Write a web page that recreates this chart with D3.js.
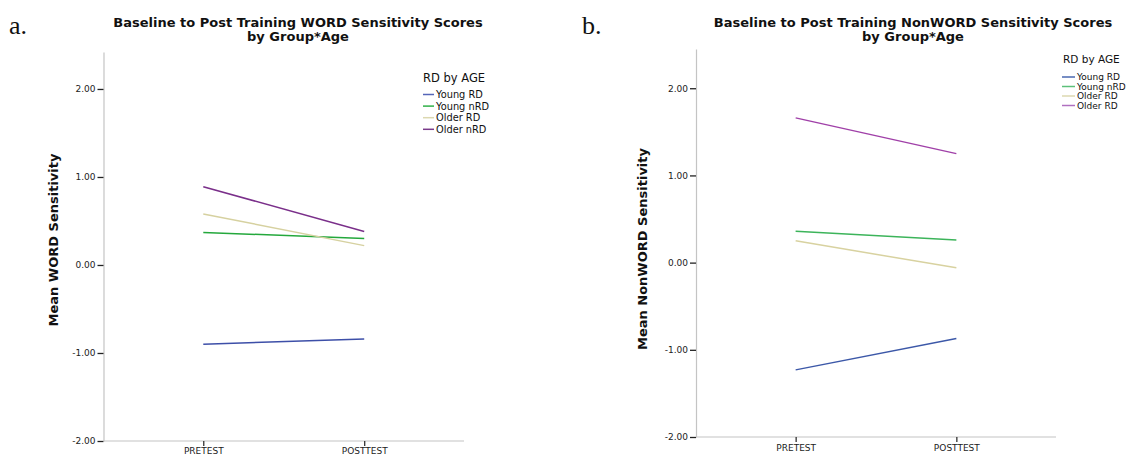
<!DOCTYPE html>
<html>
<head>
<meta charset="utf-8">
<script src="https://cdn.jsdelivr.net/npm/d3@7"></script>
<style>
  html, body { margin: 0; padding: 0; background: #fff; }
  svg { display: block; }
</style>
</head>
<body>
<svg id="chart" width="1130" height="455"></svg>
<script>
// ---------- data ----------
const timepoints = ["PRETEST", "POSTTEST"];
const yTicks = [-2, -1, 0, 1, 2];

const legendTitle = "RD by AGE";
const groupsWord = ["Young RD", "Young nRD", "Older RD", "Older nRD"];
const groupsNonword = ["Young RD", "Young nRD", "Older RD", "Older RD"];

// Panel a: WORD sensitivity (pre, post)
const wordYoungRD  = [-0.90, -0.84];
const wordYoungNRD = [0.37, 0.30];
const wordOlderRD  = [0.58, 0.22];
const wordOlderNRD = [0.89, 0.38];

// Panel b: NonWORD sensitivity (pre, post)
const nonwordYoungRD  = [-1.23, -0.87];
const nonwordYoungNRD = [0.36, 0.26];
const nonwordOlderRD  = [0.25, -0.06];
const nonwordOlderNRD = [1.66, 1.25];

const titleWord = ["Baseline to Post Training WORD Sensitivity Scores", "by Group*Age"];
const titleNonword = ["Baseline to Post Training NonWORD Sensitivity Scores", "by Group*Age"];
const yLabelWord = "Mean WORD Sensitivity";
const yLabelNonword = "Mean NonWORD Sensitivity";

// ---------- drawing ----------
const svg = d3.select("#chart");
const sans = "'DejaVu Sans', 'Open Sans', sans-serif";

function drawPanel(cfg) {
  const g = svg.append("g");
  const x = d3.scalePoint().domain(timepoints).range([cfg.left, cfg.right]).padding(0.62);
  const y = d3.scaleLinear().domain([-2, cfg.yMax]).range([cfg.bottom, cfg.top]);

  // panel letter
  g.append("text").attr("x", cfg.letterX).attr("y", 34)
    .attr("font-family", "'Liberation Serif', 'Times New Roman', serif")
    .attr("font-size", 26).attr("fill", "#111").text(cfg.letter);

  // title
  cfg.title.forEach((t, i) => {
    g.append("text").attr("x", cfg.titleX).attr("y", 27 + i * 14)
      .attr("text-anchor", "middle").attr("font-family", sans)
      .attr("font-weight", "bold").attr("font-size", 13).attr("fill", "#111").text(t);
  });

  // y axis
  const yAxis = g.append("g").attr("transform", `translate(${cfg.left},0)`)
    .call(d3.axisLeft(y).tickValues(yTicks).tickSize(6).tickSizeOuter(0).tickPadding(2)
      .tickFormat(d => d.toFixed(2)));
  yAxis.select(".domain").attr("stroke", "#c4c4c4").attr("stroke-width", 1.2);
  yAxis.selectAll(".tick line").attr("stroke", "#222").attr("stroke-width", 1.3);
  yAxis.selectAll(".tick text").attr("font-family", sans).attr("font-size", 9).attr("fill", "#222");

  // x axis
  const xAxis = g.append("g").attr("transform", `translate(0,${cfg.bottom})`)
    .call(d3.axisBottom(x).tickSize(5).tickSizeOuter(0).tickPadding(cfg.xPad));
  xAxis.select(".domain").attr("stroke", "#c4c4c4").attr("stroke-width", 1.2)
    .attr("d", `M${cfg.left},0H${cfg.right}`);
  xAxis.selectAll(".tick line").attr("stroke", "#222").attr("stroke-width", 1.2);
  xAxis.selectAll(".tick text").attr("font-family", sans).attr("font-size", 9).attr("fill", "#222");

  // y label
  g.append("text")
    .attr("transform", `translate(${cfg.yLabelX},${cfg.yLabelY}) rotate(-90)`)
    .attr("text-anchor", "middle").attr("font-family", sans).attr("font-weight", "bold")
    .attr("font-size", 13).attr("fill", "#111").text(cfg.yLabel);

  // lines
  const line = d3.line().x((d, i) => x(timepoints[i])).y(d => y(d));
  cfg.series.forEach((s, i) => {
    g.append("path").datum(s).attr("d", line).attr("fill", "none")
      .attr("stroke", cfg.colors[i]).attr("stroke-width", 1.5);
  });

  // legend
  const L = cfg.legend;
  g.append("text").attr("x", L.x + L.titleDx).attr("y", L.titleY)
    .attr("font-family", sans).attr("font-size", L.titleSize).attr("fill", "#111").text(legendTitle);
  cfg.groups.forEach((name, i) => {
    const yy = L.y0 + i * L.dy;
    g.append("line").attr("x1", L.x).attr("x2", L.x + L.len).attr("y1", yy).attr("y2", yy)
      .attr("stroke", cfg.legendColors[i]).attr("stroke-width", 1.5);
    g.append("text").attr("x", L.x + L.len + 2).attr("y", yy).attr("dy", "0.35em")
      .attr("font-family", sans).attr("font-size", L.size).attr("fill", "#111").text(name);
  });
}

drawPanel({
  letter: "a.", letterX: 9,
  title: titleWord, titleX: 298,
  left: 103.5, right: 464, top: 52, bottom: 441, yMax: 2.42, xPad: 1.5,
  yLabel: yLabelWord, yLabelX: 58, yLabelY: 240,
  series: [wordYoungRD, wordYoungNRD, wordOlderRD, wordOlderNRD],
  groups: groupsWord,
  colors: ["#3d4fa8", "#24a83c", "#d6d1a0", "#7a2f8a"],
  legendColors: ["#5566b8", "#30b048", "#dcd8b0", "#7a3a8a"],
  legend: { x: 423, len: 11, titleDx: 0, titleY: 82, titleSize: 11.5, y0: 94.5, dy: 11.6, size: 9.8 }
});

drawPanel({
  letter: "b.", letterX: 582,
  title: titleNonword, titleX: 913,
  left: 696, right: 1056, top: 49, bottom: 437, yMax: 2.45, xPad: 3,
  yLabel: yLabelNonword, yLabelX: 647, yLabelY: 249,
  series: [nonwordYoungRD, nonwordYoungNRD, nonwordOlderRD, nonwordOlderNRD],
  groups: groupsNonword,
  colors: ["#3c58a8", "#3cb45a", "#d8d2a0", "#a040a8"],
  legendColors: ["#4a68b0", "#5cc07a", "#dcd8b0", "#b070c0"],
  legend: { x: 1062, len: 13, titleDx: 1, titleY: 63, titleSize: 10.5, y0: 77, dy: 9.5, size: 9 }
});
</script>
</body>
</html>
